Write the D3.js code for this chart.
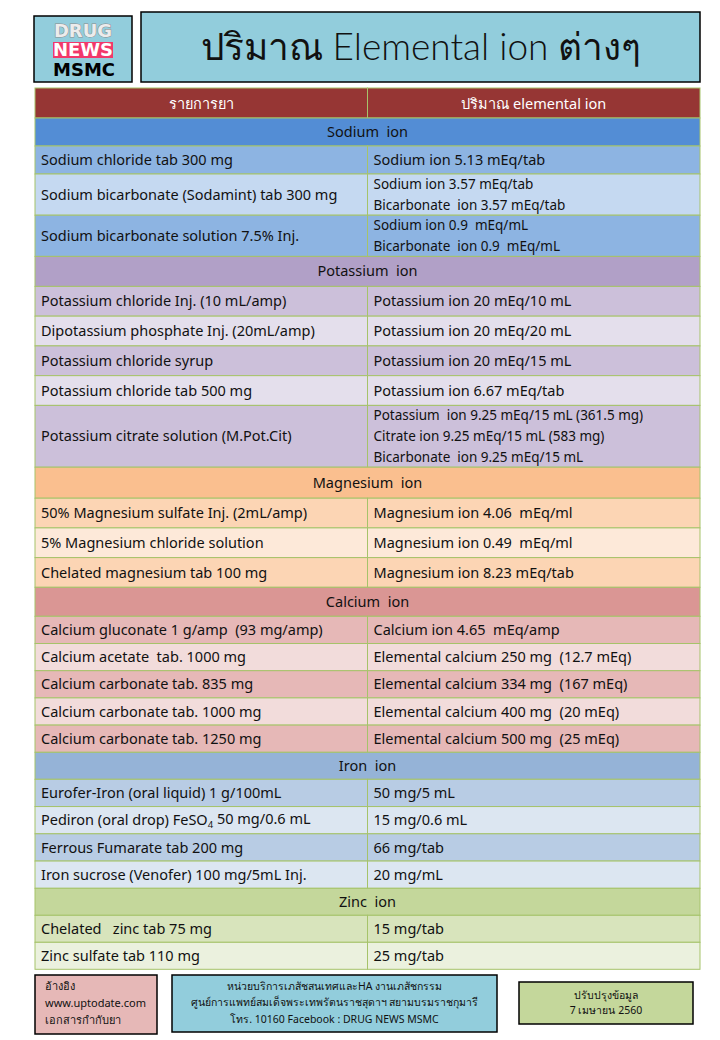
<!DOCTYPE html>
<html>
<head>
<meta charset="utf-8">
<script src="https://cdn.jsdelivr.net/npm/d3@7"></script>
<style>
  body { margin:0; background:#fff; }
  svg text { font-family: "Noto Sans", "DejaVu Sans", sans-serif; white-space: pre; }
</style>
</head>
<body>
<svg id="chart"></svg>
<script>
// data
var titleText = "ปริมาณ Elemental ion ต่างๆ";
var colHeads = ["รายการยา", "ปริมาณ elemental ion"];
var sections = ["Sodium  ion", "Potassium  ion", "Magnesium  ion", "Calcium  ion", "Iron  ion", "Zinc  ion"];

var sodiumDrugs = ["Sodium chloride tab 300 mg", "Sodium bicarbonate (Sodamint) tab 300 mg", "Sodium bicarbonate solution 7.5% Inj."];
var sodiumAmounts = [["Sodium ion 5.13 mEq/tab"], ["Sodium ion 3.57 mEq/tab", "Bicarbonate  ion 3.57 mEq/tab"], ["Sodium ion 0.9  mEq/mL", "Bicarbonate  ion 0.9  mEq/mL"]];

var potassiumDrugs = ["Potassium chloride Inj. (10 mL/amp)", "Dipotassium phosphate Inj. (20mL/amp)", "Potassium chloride syrup", "Potassium chloride tab 500 mg", "Potassium citrate solution (M.Pot.Cit)"];
var potassiumAmounts = [["Potassium ion 20 mEq/10 mL"], ["Potassium ion 20 mEq/20 mL"], ["Potassium ion 20 mEq/15 mL"], ["Potassium ion 6.67 mEq/tab"], ["Potassium  ion 9.25 mEq/15 mL (361.5 mg)", "Citrate ion 9.25 mEq/15 mL (583 mg)", "Bicarbonate  ion 9.25 mEq/15 mL"]];

var magnesiumDrugs = ["50% Magnesium sulfate Inj. (2mL/amp)", "5% Magnesium chloride solution", "Chelated magnesium tab 100 mg"];
var magnesiumAmounts = [["Magnesium ion 4.06  mEq/ml"], ["Magnesium ion 0.49  mEq/ml"], ["Magnesium ion 8.23 mEq/tab"]];

var calciumDrugs = ["Calcium gluconate 1 g/amp  (93 mg/amp)", "Calcium acetate  tab. 1000 mg", "Calcium carbonate tab. 835 mg", "Calcium carbonate tab. 1000 mg", "Calcium carbonate tab. 1250 mg"];
var calciumAmounts = [["Calcium ion 4.65  mEq/amp"], ["Elemental calcium 250 mg  (12.7 mEq)"], ["Elemental calcium 334 mg  (167 mEq)"], ["Elemental calcium 400 mg  (20 mEq)"], ["Elemental calcium 500 mg  (25 mEq)"]];

var ironDrugs = ["Eurofer-Iron (oral liquid) 1 g/100mL", "Pediron (oral drop) FeSO|4| 50 mg/0.6 mL", "Ferrous Fumarate tab 200 mg", "Iron sucrose (Venofer) 100 mg/5mL Inj."];
var ironAmounts = [["50 mg/5 mL"], ["15 mg/0.6 mL"], ["66 mg/tab"], ["20 mg/mL"]];

var zincDrugs = ["Chelated   zinc tab 75 mg", "Zinc sulfate tab 110 mg"];
var zincAmounts = [["15 mg/tab"], ["25 mg/tab"]];

var refLines = ["อ้างอิง", "www.uptodate.com", "เอกสารกำกับยา"];
var unitLines = ["หน่วยบริการเภสัชสนเทศและHA งานเภสัชกรรม", "ศูนย์การแพทย์สมเด็จพระเทพรัตนราชสุดาฯ สยามบรมราชกุมารี", "โทร. 10160 Facebook : DRUG NEWS MSMC"];
var updateLines = ["ปรับปรุงข้อมูล", "7 เมษายน 2560"];

var allDrugs = [sodiumDrugs, potassiumDrugs, magnesiumDrugs, calciumDrugs, ironDrugs, zincDrugs];
var allAmounts = [sodiumAmounts, potassiumAmounts, magnesiumAmounts, calciumAmounts, ironAmounts, zincAmounts];

// styles
var headFill = ["#538dd5", "#b1a0c7", "#fabf8f", "#da9694", "#95b3d7", "#c4d79b"];
var rowFillA = ["#8db4e2", "#ccc0da", "#fcd5b4", "#e6b8b7", "#b8cce4", "#d8e4bc"];
var rowFillB = ["#c5d9f1", "#e4dfec", "#fde9d9", "#f2dcdb", "#dce6f1", "#ebf1de"];
var secHeadH = [28, 30, 31, 29, 27, 27];
var secRowH = [28, 29.75, 29.7, 27.2, 27.25, 27];
var lineH = 20.6;

var W = 720, H = 1040;
var tableTop = 88, colHeadH = 30;
var svg = d3.select("#chart").attr("width", W).attr("height", H);

var xCol = d3.scaleBand().domain([0, 1]).range([35, 700]);
var tableX = xCol.range()[0], tableW = xCol.range()[1] - xCol.range()[0];
var mid = tableX + tableW / 2;
var grid = "#a6c36a";

// title boxes
var logo = svg.append("g");
logo.append("rect").attr("x", 34).attr("y", 16).attr("width", 98).attr("height", 66)
  .attr("fill", "#92cddc").attr("stroke", "#000").attr("stroke-width", 1.5);
logo.append("text").attr("x", 83).attr("y", 31).attr("dy", "0.36em").attr("text-anchor", "middle")
  .style("font-family", "DejaVu Sans").style("font-weight", "bold").style("font-size", "18px")
  .attr("fill", "#ececec").attr("stroke", "#8a8a8a").attr("stroke-width", 1).attr("paint-order", "stroke").text("DRUG");
logo.append("rect").attr("x", 53).attr("y", 42).attr("width", 60).attr("height", 16).attr("fill", "#f2386a");
logo.append("text").attr("x", 83).attr("y", 50).attr("dy", "0.36em").attr("text-anchor", "middle")
  .style("font-family", "DejaVu Sans").style("font-weight", "bold").style("font-size", "18px")
  .attr("fill", "#fff").text("NEWS");
logo.append("text").attr("x", 84).attr("y", 70).attr("dy", "0.36em").attr("text-anchor", "middle")
  .style("font-family", "DejaVu Sans").style("font-weight", "bold").style("font-size", "18px")
  .attr("fill", "#000").text("MSMC");

svg.append("rect").attr("x", 141).attr("y", 12).attr("width", 559).attr("height", 70)
  .attr("fill", "#92cddc").attr("stroke", "#000").attr("stroke-width", 1.5);
svg.append("text").attr("x", 421).attr("y", 47).attr("dy", "0.35em").attr("text-anchor", "middle")
  .style("font-family", "Lato, 'Noto Sans', sans-serif").style("font-size", "37px").style("font-weight", 300)
  .attr("fill", "#111").text(titleText);

// build rows
var rows = [];
var y = tableTop;
rows.push({type: "colhead", y: y, h: colHeadH});
y += colHeadH;
sections.forEach(function(s, i) {
  rows.push({type: "section", y: y, h: secHeadH[i], label: s, fill: headFill[i]});
  y += secHeadH[i];
  allDrugs[i].forEach(function(d, j) {
    var lines = allAmounts[i][j];
    var h = lines.length > 1 ? lines.length * lineH : secRowH[i];
    rows.push({type: "row", y: y, h: h, drug: d, lines: lines, fill: j % 2 == 0 ? rowFillA[i] : rowFillB[i]});
    y += h;
  });
});

var table = svg.append("g");

rows.forEach(function(r) {
  if (r.type == "colhead") {
    colHeads.forEach(function(c, k) {
      table.append("rect").attr("x", xCol(k)).attr("y", r.y).attr("width", xCol.bandwidth()).attr("height", r.h)
        .attr("fill", "#963634").attr("stroke", grid).attr("stroke-width", 1);
      table.append("text").attr("x", xCol(k) + xCol.bandwidth() / 2).attr("y", r.y + r.h / 2 + 1).attr("dy", "0.35em")
        .attr("text-anchor", "middle").style("font-size", "14.5px").attr("fill", "#fff").text(c);
    });
  } else if (r.type == "section") {
    table.append("rect").attr("x", tableX).attr("y", r.y).attr("width", tableW).attr("height", r.h)
      .attr("fill", r.fill).attr("stroke", grid).attr("stroke-width", 1);
    table.append("text").attr("x", mid).attr("y", r.y + r.h / 2).attr("dy", "0.35em")
      .attr("text-anchor", "middle").style("font-size", "14.5px").attr("fill", "#111").text(r.label);
  } else {
    [0, 1].forEach(function(k) {
      table.append("rect").attr("x", xCol(k)).attr("y", r.y).attr("width", xCol.bandwidth()).attr("height", r.h)
        .attr("fill", r.fill).attr("stroke", grid).attr("stroke-width", 1);
    });
    var t = table.append("text").attr("x", xCol(0) + 6).attr("y", r.y + r.h / 2).attr("dy", "0.35em")
      .style("font-size", "14.5px").attr("fill", "#111");
    var parts = r.drug.split("|");
    if (parts.length == 3) {
      t.append("tspan").text(parts[0]);
      t.append("tspan").attr("dy", "0.3em").style("font-size", "9.5px").text(parts[1]);
      t.append("tspan").attr("dy", "-0.3em").text(parts[2]);
    } else {
      t.text(r.drug);
    }
    var n = r.lines.length;
    r.lines.forEach(function(l, m) {
      var cy = n == 1 ? r.y + r.h / 2 : r.y + lineH * (m + 0.5);
      table.append("text").attr("x", xCol(1) + 6).attr("y", cy).attr("dy", "0.35em")
        .style("font-size", n == 1 ? "14.5px" : "13.5px").attr("fill", "#111").text(l);
    });
  }
});

// footer
function footBox(x, yy, w, h, fill, lines, anchor, tx, ty, step, size) {
  svg.append("rect").attr("x", x).attr("y", yy).attr("width", w).attr("height", h)
    .attr("fill", fill).attr("stroke", "#000").attr("stroke-width", 1.5);
  lines.forEach(function(l, i) {
    svg.append("text").attr("x", tx).attr("y", ty + i * step).attr("dy", "0.35em")
      .attr("text-anchor", anchor).style("font-size", size).attr("fill", "#111").text(l);
  });
}
footBox(35, 975, 122, 59, "#e6b8b7", refLines, "start", 45, 986, 17, "11px");
footBox(172, 975, 325, 57, "#92cddc", unitLines, "middle", 334.5, 986, 16.5, "10.5px");
footBox(519, 982, 174, 42, "#c4d79b", updateLines, "middle", 606, 995, 15, "10.5px");
</script>
</body>
</html>
